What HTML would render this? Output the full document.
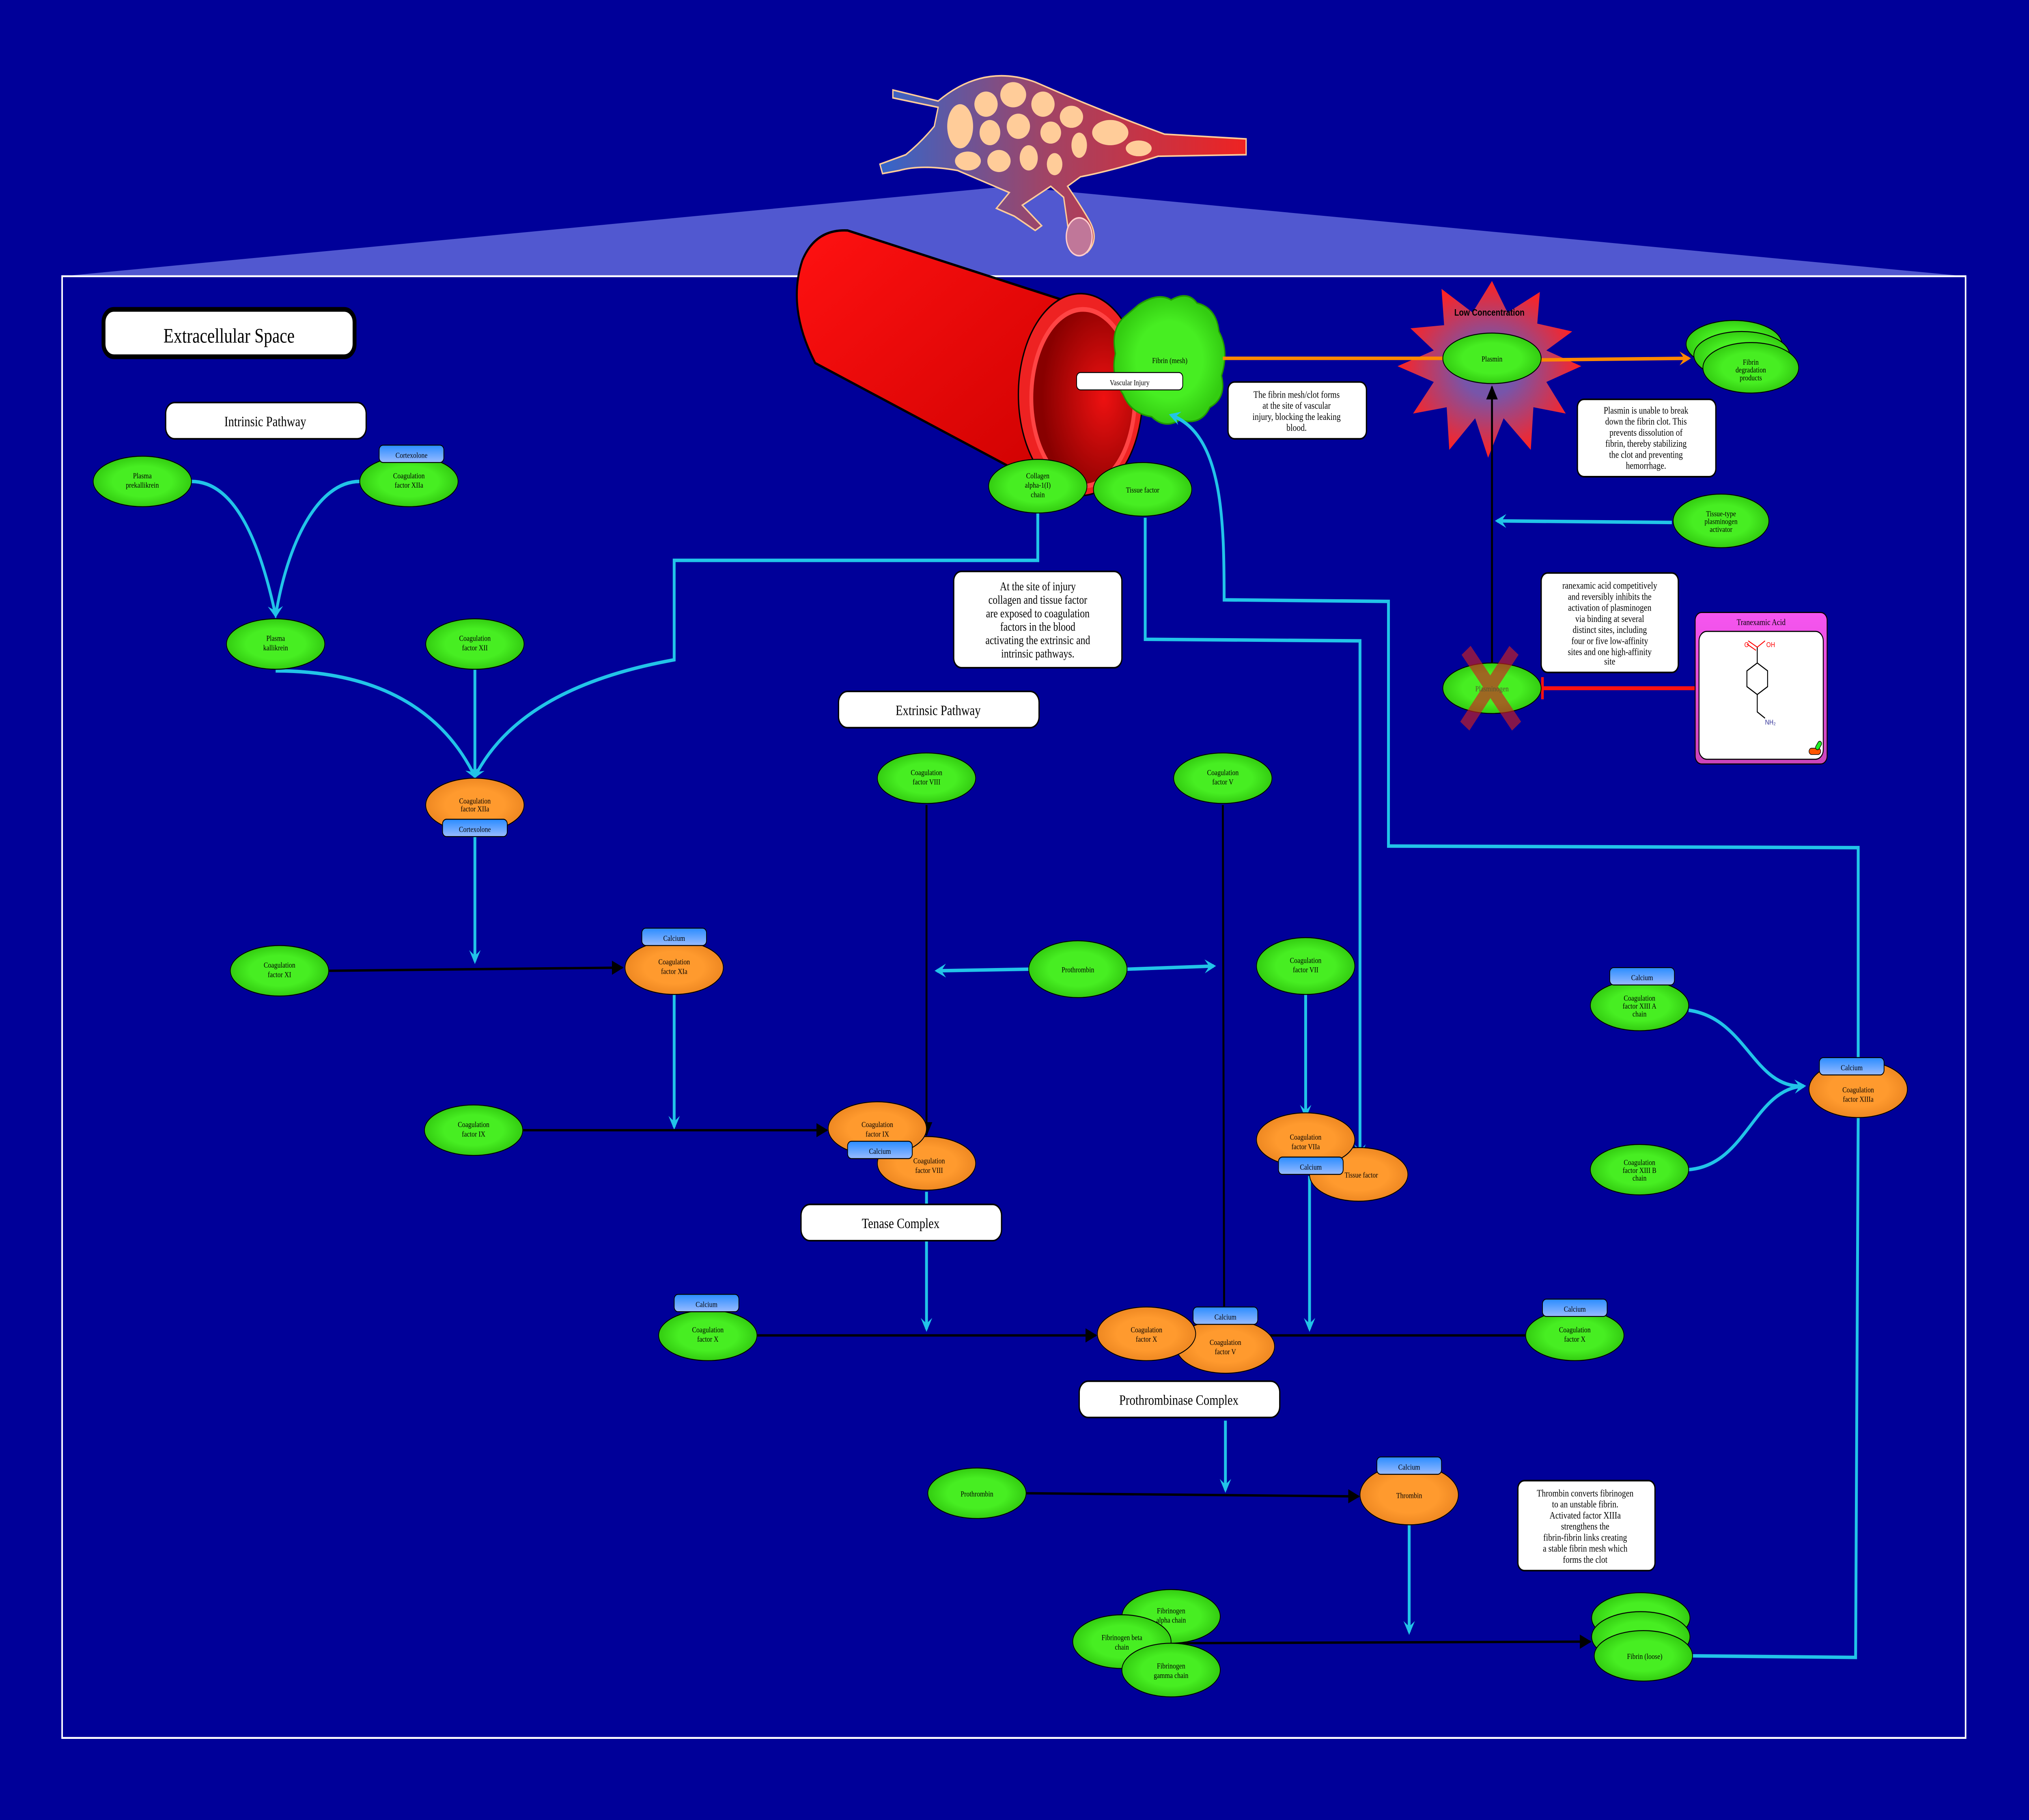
<!DOCTYPE html>
<html><head><meta charset="utf-8"><style>
html,body{margin:0;padding:0;background:#000099;overflow:hidden;width:100%;height:100%;}
svg{display:block;position:absolute;left:0;top:0;width:100vw;height:100vh;}
text{font-family:"Liberation Serif",serif;}
.sans{font-family:"Liberation Sans",sans-serif;}
</style></head><body>
<svg viewBox="0 0 1568 1153" preserveAspectRatio="none" xmlns="http://www.w3.org/2000/svg">
<defs>
<radialGradient id="gg" cx="50%" cy="50%" r="50%"><stop offset="0.6" stop-color="#47ee22"/><stop offset="1" stop-color="#33cc11"/></radialGradient>
<radialGradient id="og" cx="50%" cy="50%" r="50%"><stop offset="0.6" stop-color="#ff9a2e"/><stop offset="1" stop-color="#ee8822"/></radialGradient>
<linearGradient id="bg" x1="0" y1="0" x2="0" y2="1"><stop offset="0" stop-color="#2a8cff"/><stop offset="1" stop-color="#99bbff"/></linearGradient>
<linearGradient id="pk" x1="0" y1="0" x2="0" y2="1"><stop offset="0" stop-color="#f655f0"/><stop offset="1" stop-color="#cc44bb"/></linearGradient>
<linearGradient id="vs" x1="0" y1="0" x2="1" y2="0"><stop offset="0" stop-color="#3366cc"/><stop offset="0.45" stop-color="#a04466"/><stop offset="1" stop-color="#ee2222"/></linearGradient>
<radialGradient id="st" cx="50%" cy="50%" r="50%"><stop offset="0.3" stop-color="#7755aa"/><stop offset="1" stop-color="#ff2222"/></radialGradient>
<linearGradient id="tube" x1="0" y1="0" x2="1" y2="1"><stop offset="0" stop-color="#ff1111"/><stop offset="1" stop-color="#cc0000"/></linearGradient>
<radialGradient id="inner" cx="70%" cy="50%" r="60%"><stop offset="0" stop-color="#ee1111"/><stop offset="1" stop-color="#880000"/></radialGradient>
<marker id="ac" viewBox="0 0 10 10" refX="8" refY="5" markerWidth="4" markerHeight="4" orient="auto"><path d="M0,0 L10,5 L0,10 L4,5z" fill="#22c4e8"/></marker>
<marker id="ak" viewBox="0 0 10 10" refX="9" refY="5" markerWidth="6" markerHeight="6" orient="auto"><path d="M0,0 L10,5 L0,10z" fill="#000"/></marker>
<marker id="ao" viewBox="0 0 10 10" refX="8" refY="5" markerWidth="4" markerHeight="4" orient="auto"><path d="M0,0 L10,5 L0,10 L4,5z" fill="#ff8800"/></marker>
</defs>
<rect width="1568" height="1153" fill="#000099"/>

<polygon points="48,175 780,118 1519,175" fill="#5a62d6" opacity="0.9"/>
<path d="M690,57 L725,64 Q760,40 800,52 Q850,70 900,85 L963,88 L963,98 L895,99 Q860,108 835,112 L825,118 Q835,130 842,140 Q850,152 840,160 Q828,162 826,148 L822,125 L812,118 L790,130 L805,143 L800,146 L784,137 L770,132 L780,122 L740,108 Q712,104 695,108 L682,110 L680,104 L700,98 Q712,90 722,80 L725,68 L690,62z" fill="url(#vs)" stroke="#ffcc99" stroke-width="1"/>
<g fill="#ffcc99">
<ellipse cx="742" cy="80" rx="10" ry="14"/><ellipse cx="762" cy="66" rx="9" ry="8"/><ellipse cx="783" cy="60" rx="10" ry="8"/><ellipse cx="806" cy="66" rx="9" ry="8"/><ellipse cx="828" cy="74" rx="9" ry="7"/><ellipse cx="858" cy="84" rx="14" ry="8"/><ellipse cx="765" cy="84" rx="8" ry="8"/><ellipse cx="787" cy="80" rx="9" ry="8"/><ellipse cx="812" cy="84" rx="8" ry="7"/><ellipse cx="834" cy="92" rx="6" ry="8"/><ellipse cx="748" cy="102" rx="10" ry="6"/><ellipse cx="772" cy="102" rx="9" ry="7"/><ellipse cx="795" cy="100" rx="7" ry="8"/><ellipse cx="815" cy="104" rx="6" ry="7"/><ellipse cx="880" cy="94" rx="10" ry="5"/>
</g>
<ellipse cx="834" cy="150" rx="10" ry="12" fill="#c07799" stroke="#ffcccc"/>

<rect x="48" y="175" width="1471" height="926" fill="none" stroke="#ffffff" stroke-width="1.2"/>

<path d="M655,146 L840,195 L838,305 L790,300 L630,230 Q608,195 620,165 Q630,145 655,146z" fill="url(#tube)" stroke="#000" stroke-width="1.5"/>
<ellipse cx="835" cy="250" rx="48" ry="64" fill="#ee2222" stroke="#000" stroke-width="1"/>
<ellipse cx="837" cy="252" rx="40" ry="56" fill="url(#inner)" stroke="#ff4444" stroke-width="3"/>

<path d="M880,193 Q895,185 905,190 Q918,184 925,192 Q940,195 942,210 Q950,222 944,238 Q948,252 935,258 Q928,270 912,266 Q900,272 890,264 Q874,262 868,250 Q858,238 862,224 Q858,208 870,200z" fill="url(#gg)" stroke="#229900"/>
<text x="904" y="230" font-size="5" text-anchor="middle">Fibrin (mesh)</text>
<rect x="832" y="236" width="82" height="11" rx="3" fill="#fff" stroke="#000" stroke-width="0.6"/>
<text x="873" y="244" font-size="5" text-anchor="middle">Vascular Injury</text>

<polygon points="1153,178 1165,198 1190,185 1188,205 1215,210 1195,222 1222,232 1195,242 1210,262 1185,258 1183,285 1162,265 1150,290 1140,265 1120,285 1118,258 1092,262 1108,242 1080,232 1108,222 1090,208 1116,206 1114,183 1138,198" fill="url(#st)"/>
<text x="1151" y="200" font-size="6" font-weight="bold" class="sans" text-anchor="middle">Low Concentration</text>

<g fill="none" stroke="#22c4e8" stroke-width="2.2">
<path d="M148,305 C180,305 200,340 213,390" marker-end="url(#ac)"/>
<path d="M278,305 C245,305 222,345 213,390" marker-end="url(#ac)"/>
<path d="M213,425 C300,425 345,455 367,492" marker-end="url(#ac)"/>
<path d="M367,424 L367,492" marker-end="url(#ac)"/>
<path d="M802,325 L802,355 L521,355 L521,418 C440,430 390,455 367,492" marker-end="url(#ac)"/>
<path d="M367,530 L367,609" marker-end="url(#ac)"/>
<path d="M521,630 L521,714" marker-end="url(#ac)"/>
<path d="M716,755 L716,842" marker-end="url(#ac)"/>
<path d="M1009,630 L1009,707" marker-end="url(#ac)"/>
<path d="M1012,745 L1012,842" marker-end="url(#ac)"/>
<path d="M885,328 L885,405 L1051,406 L1051,732" marker-end="url(#ac)"/>
<path d="M947,900 L947,944" marker-end="url(#ac)"/>
<path d="M1089,966 L1089,1034" marker-end="url(#ac)"/>
<path d="M1308,1049 L1434,1050 L1436,708 M1436,676 L1436,537 L1073,536 L1073,381 L946,380 C946,330 945,275 905,263" marker-end="url(#ac)"/>
<path d="M795,614 L724,615" marker-end="url(#ac)"/>
<path d="M871,614 L938,612" marker-end="url(#ac)"/>
<path d="M1292,331 L1157,330" marker-end="url(#ac)"/>
<path d="M1305,640 C1350,645 1355,690 1394,688" marker-end="url(#ac)"/>
<path d="M1305,741 C1350,738 1355,690 1394,688" marker-end="url(#ac)"/>
</g>
<g fill="none" stroke="#000" stroke-width="1.5">
<path d="M254,615 L481,613" marker-end="url(#ak)"/>
<path d="M404,716 L639,716" marker-end="url(#ak)"/>
<path d="M716,510 L716,719" marker-end="url(#ak)"/>
<path d="M945,510 L946,830"/>
<path d="M585,846 L847,846" marker-end="url(#ak)"/>
<path d="M1179,846 L925,846" marker-end="url(#ak)"/>
<path d="M793,946 L1050,948" marker-end="url(#ak)"/>
<path d="M905,1041 L1229,1040" marker-end="url(#ak)"/>
<path d="M1153,420 L1153,245" marker-end="url(#ak)"/>
</g>
<g fill="none" stroke="#ff8800" stroke-width="2.2">
<path d="M945,227 L1115,227"/>
<path d="M1190,228 L1305,227" marker-end="url(#ao)"/>
</g>
<path d="M1310,436 L1192,436" stroke="#ff1111" stroke-width="2.5"/>
<path d="M1192,429 L1192,443" stroke="#ff1111" stroke-width="2"/>

<g stroke="#000" stroke-width="0.6" fill="url(#gg)">
<ellipse cx="110" cy="305" rx="38" ry="16"/>
<ellipse cx="316" cy="305" rx="38" ry="16"/>
<ellipse cx="213" cy="408" rx="38" ry="16"/>
<ellipse cx="367" cy="408" rx="38" ry="16"/>
<ellipse cx="216" cy="615" rx="38" ry="16"/>
<ellipse cx="366" cy="716" rx="38" ry="16"/>
<ellipse cx="716" cy="493" rx="38" ry="16"/>
<ellipse cx="945" cy="493" rx="38" ry="16"/>
<ellipse cx="833" cy="614" rx="38" ry="18"/>
<ellipse cx="1009" cy="612" rx="38" ry="18"/>
<ellipse cx="547" cy="846" rx="38" ry="16"/>
<ellipse cx="1217" cy="846" rx="38" ry="16"/>
<ellipse cx="755" cy="946" rx="38" ry="16"/>
<ellipse cx="905" cy="1024" rx="38" ry="17"/>
<ellipse cx="867" cy="1040" rx="38" ry="17"/>
<ellipse cx="905" cy="1058" rx="38" ry="17"/>
<ellipse cx="1268" cy="1025" rx="38" ry="16"/>
<ellipse cx="1268" cy="1037" rx="38" ry="16"/>
<ellipse cx="1270" cy="1049" rx="38" ry="16"/>
<ellipse cx="1267" cy="637" rx="38" ry="16"/>
<ellipse cx="1267" cy="741" rx="38" ry="16"/>
<ellipse cx="802" cy="308" rx="38" ry="17"/>
<ellipse cx="883" cy="310" rx="38" ry="17"/>
<ellipse cx="1153" cy="227" rx="38" ry="16"/>
<ellipse cx="1340" cy="218" rx="37" ry="15"/>
<ellipse cx="1346" cy="225" rx="37" ry="15"/>
<ellipse cx="1353" cy="233" rx="37" ry="16"/>
<ellipse cx="1330" cy="330" rx="37" ry="17"/>
<ellipse cx="1153" cy="436" rx="38" ry="16"/>
</g>
<g stroke="#000" stroke-width="0.6" fill="url(#og)">
<ellipse cx="367" cy="510" rx="38" ry="17"/>
<ellipse cx="521" cy="613" rx="38" ry="17"/>
<ellipse cx="716" cy="737" rx="38" ry="17"/>
<ellipse cx="678" cy="715" rx="38" ry="17"/>
<ellipse cx="1050" cy="744" rx="38" ry="17"/>
<ellipse cx="1009" cy="722" rx="38" ry="17"/>
<ellipse cx="947" cy="853" rx="38" ry="17"/>
<ellipse cx="886" cy="845" rx="38" ry="17"/>
<ellipse cx="1089" cy="947" rx="38" ry="19"/>
<ellipse cx="1436" cy="690" rx="38" ry="18"/>
</g>
<path d="M1133,412 L1172,460 M1170,412 L1132,460" stroke="#cc2222" stroke-width="9" opacity="0.65"/>

<g font-size="5" text-anchor="middle">
<text x="110" y="303">Plasma</text><text x="110" y="309">prekallikrein</text>
<text x="316" y="303">Coagulation</text><text x="316" y="309">factor XIIa</text>
<text x="213" y="406">Plasma</text><text x="213" y="412">kallikrein</text>
<text x="367" y="406">Coagulation</text><text x="367" y="412">factor XII</text>
<text x="216" y="613">Coagulation</text><text x="216" y="619">factor XI</text>
<text x="366" y="714">Coagulation</text><text x="366" y="720">factor IX</text>
<text x="716" y="491">Coagulation</text><text x="716" y="497">factor VIII</text>
<text x="945" y="491">Coagulation</text><text x="945" y="497">factor V</text>
<text x="833" y="616">Prothrombin</text>
<text x="1009" y="610">Coagulation</text><text x="1009" y="616">factor VII</text>
<text x="547" y="844">Coagulation</text><text x="547" y="850">factor X</text>
<text x="1217" y="844">Coagulation</text><text x="1217" y="850">factor X</text>
<text x="755" y="948">Prothrombin</text>
<text x="905" y="1022">Fibrinogen</text><text x="905" y="1028">alpha chain</text>
<text x="867" y="1039">Fibrinogen beta</text><text x="867" y="1045">chain</text>
<text x="905" y="1057">Fibrinogen</text><text x="905" y="1063">gamma chain</text>
<text x="1271" y="1051">Fibrin (loose)</text>
<text x="1267" y="634">Coagulation</text><text x="1267" y="639">factor XIII A</text><text x="1267" y="644">chain</text>
<text x="1267" y="738">Coagulation</text><text x="1267" y="743">factor XIII B</text><text x="1267" y="748">chain</text>
<text x="802" y="303">Collagen</text><text x="802" y="309">alpha-1(I)</text><text x="802" y="315">chain</text>
<text x="883" y="312">Tissue factor</text>
<text x="1153" y="229">Plasmin</text>
<text x="1353" y="231">Fibrin</text><text x="1353" y="236">degradation</text><text x="1353" y="241">products</text>
<text x="1330" y="327">Tissue-type</text><text x="1330" y="332">plasminogen</text><text x="1330" y="337">activator</text>
<text x="1153" y="438" fill="#553">Plasminogen</text>
<text x="367" y="509">Coagulation</text><text x="367" y="514">factor XIIa</text>
<text x="521" y="611">Coagulation</text><text x="521" y="617">factor XIa</text>
<text x="678" y="714">Coagulation</text><text x="678" y="720">factor IX</text>
<text x="718" y="737">Coagulation</text><text x="718" y="743">factor VIII</text>
<text x="1009" y="722">Coagulation</text><text x="1009" y="728">factor VIIa</text>
<text x="1052" y="746">Tissue factor</text>
<text x="886" y="844">Coagulation</text><text x="886" y="850">factor X</text>
<text x="947" y="852">Coagulation</text><text x="947" y="858">factor V</text>
<text x="1089" y="949">Thrombin</text>
<text x="1436" y="692">Coagulation</text><text x="1436" y="698">factor XIIIa</text>
</g>

<g stroke="#000" stroke-width="0.6" fill="url(#bg)">
<rect x="293" y="282" width="50" height="11" rx="3"/>
<rect x="342" y="519" width="50" height="11" rx="3"/>
<rect x="496" y="588" width="50" height="11" rx="3"/>
<rect x="655" y="723" width="50" height="11" rx="3"/>
<rect x="988" y="733" width="50" height="11" rx="3"/>
<rect x="922" y="828" width="50" height="11" rx="3"/>
<rect x="521" y="820" width="50" height="11" rx="3"/>
<rect x="1192" y="823" width="50" height="11" rx="3"/>
<rect x="1064" y="923" width="50" height="11" rx="3"/>
<rect x="1244" y="613" width="50" height="11" rx="3"/>
<rect x="1406" y="670" width="50" height="11" rx="3"/>
</g>
<g font-size="5" text-anchor="middle">
<text x="318" y="290">Cortexolone</text>
<text x="367" y="527">Cortexolone</text>
<text x="521" y="596">Calcium</text>
<text x="680" y="731">Calcium</text>
<text x="1013" y="741">Calcium</text>
<text x="947" y="836">Calcium</text>
<text x="546" y="828">Calcium</text>
<text x="1217" y="831">Calcium</text>
<text x="1089" y="931">Calcium</text>
<text x="1269" y="621">Calcium</text>
<text x="1431" y="678">Calcium</text>
</g>

<rect x="80" y="196" width="194" height="30" rx="8" fill="#fff" stroke="#000" stroke-width="3"/>
<text x="177" y="217" font-size="13" text-anchor="middle">Extracellular Space</text>
<g fill="#fff" stroke="#000" stroke-width="1">
<rect x="128" y="255" width="155" height="23" rx="7"/>
<rect x="648" y="438" width="155" height="23" rx="7"/>
<rect x="619" y="763" width="155" height="23" rx="7"/>
<rect x="834" y="875" width="155" height="23" rx="7"/>
<rect x="949" y="242" width="107" height="36" rx="5"/>
<rect x="737" y="362" width="130" height="61" rx="6"/>
<rect x="1219" y="253" width="107" height="49" rx="5"/>
<rect x="1191" y="363" width="106" height="63" rx="5"/>
<rect x="1173" y="938" width="106" height="57" rx="5"/>
</g>
<g text-anchor="middle">
<text x="205" y="270" font-size="9">Intrinsic Pathway</text>
<text x="725" y="453" font-size="9">Extrinsic Pathway</text>
<text x="696" y="778" font-size="9">Tenase Complex</text>
<text x="911" y="890" font-size="9">Prothrombinase Complex</text>
<g font-size="6.2">
<text x="1002" y="252">The fibrin mesh/clot forms</text><text x="1002" y="259">at the site of vascular</text><text x="1002" y="266">injury, blocking the leaking</text><text x="1002" y="273">blood.</text>
<text x="1272" y="262">Plasmin is unable to break</text><text x="1272" y="269">down the fibrin clot. This</text><text x="1272" y="276">prevents dissolution of</text><text x="1272" y="283">fibrin, thereby stabilizing</text><text x="1272" y="290">the clot and preventing</text><text x="1272" y="297">hemorrhage.</text>
<text x="1244" y="373">ranexamic acid competitively</text><text x="1244" y="380">and reversibly inhibits the</text><text x="1244" y="387">activation of plasminogen</text><text x="1244" y="394">via binding at several</text><text x="1244" y="401">distinct sites, including</text><text x="1244" y="408">four or five low-affinity</text><text x="1244" y="415">sites and one high-affinity</text><text x="1244" y="421">site</text>
<text x="1225" y="948">Thrombin converts fibrinogen</text><text x="1225" y="955">to an unstable fibrin.</text><text x="1225" y="962">Activated factor XIIIa</text><text x="1225" y="969">strengthens the</text><text x="1225" y="976">fibrin-fibrin links creating</text><text x="1225" y="983">a stable fibrin mesh which</text><text x="1225" y="990">forms the clot</text>
</g>
<g font-size="7.5">
<text x="802" y="374">At the site of injury</text><text x="802" y="382.5">collagen and tissue factor</text><text x="802" y="391">are exposed to coagulation</text><text x="802" y="399.5">factors in the blood</text><text x="802" y="408">activating the extrinsic and</text><text x="802" y="416.5">intrinsic pathways.</text>
</g>
</g>

<rect x="1310" y="388" width="102" height="96" rx="5" fill="url(#pk)" stroke="#000" stroke-width="0.7"/>
<text x="1361" y="396" font-size="5.5" text-anchor="middle">Tranexamic Acid</text>
<rect x="1313" y="400" width="96" height="81" rx="6" fill="#fff" stroke="#000" stroke-width="0.7"/>
<g stroke="#000" stroke-width="0.7" fill="none">
<polygon points="1358,420 1366,425 1366,435 1358,440 1350,435 1350,425"/>
<path d="M1358,440 L1358,451 L1364,455" />
<path d="M1358,420 L1358,410"/>
</g>
<path d="M1358,410 L1351,406 M1357,412 L1350,408 M1358,410 L1364,406" stroke="#f00" stroke-width="0.6"/>
<text x="1348" y="410" font-size="4.5" fill="#f00" class="sans">O</text>
<text x="1365" y="410" font-size="4.5" fill="#f00" class="sans">OH</text>
<text x="1364" y="459" font-size="4.5" fill="#333399" class="sans">NH₂</text>
<rect x="1398" y="474" width="9" height="4" rx="2" fill="#ff5500" stroke="#000" stroke-width="0.4"/>
<rect x="1404" y="469" width="3" height="6" rx="1.5" fill="#22ee22" stroke="#000" stroke-width="0.4" transform="rotate(35 1405 472)"/>
</svg>
</body></html>
